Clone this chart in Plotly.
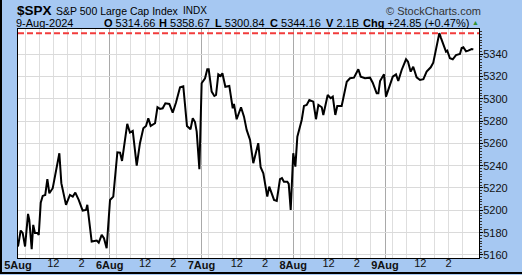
import plotly.graph_objects as go

# ---------------- data ----------------
days = ["5Aug", "6Aug", "7Aug", "8Aug", "9Aug"]
session_hours = 6.5                     # 9:30 - 16:00
intraday_labels = ["12", "2"]
intraday_label_hours = [2.5, 4.5]       # hours after open
grid_hours = [0.5, 1.5, 2.5, 3.5, 4.5, 5.5]

# session-compressed time (hours since 5-Aug open) and price
t_hours = [0.00, 0.19, 0.33, 0.50, 0.71, 0.80, 0.97, 1.08, 1.20, 1.37, 1.47, 1.61, 1.75, 1.93, 2.08,
           2.22, 2.46, 2.64, 2.93, 3.07, 3.40, 3.68, 3.88, 4.06, 4.30, 4.58, 4.82, 4.91, 5.22, 5.58,
           5.72, 5.93, 6.09, 6.28,
           6.52, 6.75, 7.04, 7.23, 7.37, 7.74, 7.93, 8.13, 8.41, 8.64, 8.88, 9.07, 9.23, 9.40, 9.71,
           9.88, 10.06, 10.25, 10.44, 10.72, 10.96, 11.19, 11.48, 11.71, 11.97, 12.22, 12.38, 12.54,
           12.66, 12.85,
           13.01, 13.25, 13.41, 13.51, 13.72, 13.91, 14.03, 14.19, 14.36, 14.48, 14.69, 14.97, 15.21,
           15.30, 15.49, 15.80, 16.01, 16.20, 16.44, 16.67, 17.02, 17.19, 17.38, 17.66, 17.80, 18.14,
           18.33, 18.56, 18.70, 18.84, 19.08, 19.18, 19.32,
           19.50, 19.65, 19.79, 20.10, 20.26, 20.45, 20.64, 20.92, 21.11, 21.28, 21.52, 21.63, 21.94,
           22.15, 22.30, 22.48, 22.62, 22.93, 23.29, 23.52, 23.80, 24.11, 24.28, 24.58, 24.94, 25.13,
           25.41, 25.53, 25.65, 25.93,
           26.07, 26.30, 26.55, 26.78, 26.94, 27.18, 27.49, 27.63, 27.82, 28.00, 28.24, 28.48, 28.72,
           28.95, 29.24, 29.42, 29.66, 29.85, 29.95, 30.13, 30.32, 30.41, 30.60, 30.80, 31.03, 31.31,
           31.43, 31.55, 31.74, 31.90, 32.14, 32.26]

price = [5167.6, 5181.9, 5179.8, 5167.6, 5196.8, 5191.4, 5165.2, 5187.0, 5179.8, 5179.8, 5178.0, 5206.9,
         5212.9, 5213.8, 5227.9, 5215.3, 5219.8, 5231.7, 5251.1, 5224.3, 5204.9, 5213.8, 5212.3, 5215.9,
         5209.3, 5199.8, 5200.4, 5204.9, 5172.0, 5172.9, 5171.1, 5178.0, 5175.1, 5166.1,
         5209.3, 5212.3, 5252.0, 5251.7, 5244.2, 5277.4, 5269.6, 5271.1, 5240.0, 5260.1, 5273.5, 5275.6,
         5282.5, 5275.6, 5278.0, 5292.3, 5290.8, 5291.4, 5295.9, 5295.3, 5287.5, 5296.4, 5310.2, 5311.1,
         5275.6, 5272.6, 5282.5, 5279.1, 5270.5, 5236.8,
         5313.8, 5318.3, 5326.3, 5326.3, 5306.3, 5302.4, 5303.3, 5321.8, 5320.3, 5322.7, 5310.7, 5311.4,
         5291.4, 5295.3, 5281.6, 5292.3, 5283.9, 5272.0, 5263.0, 5242.2, 5260.1, 5238.6, 5233.2, 5212.3,
         5221.2, 5209.3, 5208.4, 5227.9, 5228.8, 5225.7, 5225.7, 5223.7, 5200.4,
         5251.1, 5239.1, 5266.0, 5280.9, 5293.5, 5294.4, 5298.8, 5297.3, 5281.6, 5294.4, 5292.3, 5285.4,
         5303.3, 5300.4, 5301.8, 5285.4, 5293.5, 5293.5, 5315.2, 5318.3, 5318.8, 5326.3, 5319.7, 5318.3,
         5318.8, 5314.3, 5304.8, 5304.8, 5315.8, 5321.8,
         5301.8, 5311.4, 5319.7, 5321.8, 5315.8, 5325.7, 5335.3, 5333.1, 5324.2, 5328.6, 5319.1, 5316.7,
         5317.4, 5324.2, 5328.1, 5332.2, 5346.5, 5358.67, 5354.9, 5348.1, 5342.1, 5343.0, 5336.2, 5335.3,
         5339.1, 5340.0, 5345.4, 5346.0, 5342.4, 5343.0, 5344.5, 5344.16]

high_line = 5358.67
y_tick_values = [5160, 5180, 5200, 5220, 5240, 5260, 5280, 5300, 5320, 5340]

header_symbol = "$SPX"
header_name = "S&P 500 Large Cap Index"
header_exchange = "INDX"
header_date = "9-Aug-2024"
ohlc = [("O", "5314.66"), ("H", "5358.67"), ("L", "5300.84"), ("C", "5344.16"), ("V", "2.1B"),
        ("Chg", "+24.85 (+0.47%)")]

# ---------------- layout ----------------
W, H = 522, 275
ML, MR, MT, MB = 18, 43, 29, 17
PW, PH = W - ML - MR, H - MT - MB
FONT = "Arial"
BG = "#a6c8f2"

def px(x):
    return (x - ML) / PW

def py(y):
    return (H - MB - y) / PH

day_starts = [i * session_hours for i in range(len(days))]
intra_vals, intra_text = [], []
for d in day_starts:
    for h, lab in zip(intraday_label_hours, intraday_labels):
        intra_vals.append(d + h)
        intra_text.append(lab)
hour_grid = [d + h for d in day_starts for h in grid_hours]

x_range = [0, (479 - ML) / ((385 - ML) / (4 * session_hours))]

fig = go.Figure()
fig.add_trace(go.Scatter(x=t_hours, y=price, mode="lines",
                         line=dict(color="black", width=2), hoverinfo="skip", showlegend=False))
fig.add_trace(go.Scatter(x=[t_hours[0]], y=[price[0]], xaxis="x2", mode="markers",
                         marker=dict(opacity=0), hoverinfo="skip", showlegend=False))

fig.add_shape(type="line", xref="paper", x0=0, x1=1, yref="y", y0=high_line, y1=high_line,
              line=dict(color="#f23c3c", width=2, dash="6px,3px"))

# outer frame (left and bottom)
fig.add_shape(type="line", xref="paper", yref="paper", x0=px(1), x1=px(1), y0=py(0), y1=py(274),
              line=dict(color="black", width=2))
fig.add_shape(type="line", xref="paper", yref="paper", x0=px(0), x1=px(522), y0=py(273), y1=py(273),
              line=dict(color="black", width=2))

ann = []
def text(xc, y, s, size, bold=False, color="black"):
    ann.append(dict(x=px(xc), y=py(y), xref="paper", yref="paper", xanchor="center", yanchor="middle",
                    text=f"<b>{s}</b>" if bold else s, showarrow=False, borderpad=0,
                    font=dict(family=FONT, size=size, color=color)))

text(34.5, 10.5, header_symbol, 13.5, bold=True)
text(117, 10.5, header_name, 10.5)
text(195, 10.5, header_exchange, 10)
text(45, 23.3, header_date, 11)
ohlc_centers = [129, 184, 240, 295, 342, 416]
for (k, v), xc in zip(ohlc, ohlc_centers):
    text(xc, 23.3, f"<b>{k}</b> {v}", 11)
text(475, 22.5, "▲", 7, color="#2f8f2f")
text(433, 10.5, "© StockCharts.com", 11, color="#333333")

fig.update_layout(
    width=W, height=H, autosize=False,
    margin=dict(l=ML, r=MR, t=MT, b=MB, pad=0, autoexpand=False),
    paper_bgcolor=BG, plot_bgcolor="white",
    font=dict(family=FONT, size=11, color="black"),
    annotations=ann,
    xaxis=dict(range=x_range, tickmode="array", tickvals=day_starts, automargin=False,
               ticktext=[f"<b>{d}</b>" for d in days],
               showgrid=True, gridcolor="#a9a9a9", gridwidth=1,
               minor=dict(tickmode="array", tickvals=hour_grid, showgrid=True,
                          gridcolor="#dedede", gridwidth=1),
               showline=True, linecolor="black", linewidth=1, mirror=True,
               zeroline=False, ticks="", ticklabelstandoff=-3,
               tickfont=dict(family=FONT, size=11, color="#111111")),
    xaxis2=dict(range=x_range, overlaying="x", anchor="y", side="bottom", automargin=False,
                tickmode="array", tickvals=intra_vals, ticktext=intra_text,
                showgrid=False, showline=False, zeroline=False, ticks="", ticklabelstandoff=-3,
                tickfont=dict(family=FONT, size=11, color="#111111")),
    yaxis=dict(range=[5157.3, 5362.4], side="right", tickmode="array", tickvals=y_tick_values,
               automargin=False,
               showgrid=True, gridcolor="#dadada", gridwidth=1,
               ticks="outside", ticklen=3, tickcolor="black", tickwidth=1, ticklabelstandoff=-2,
               minor=dict(dtick=2.5, tick0=5160, ticks="outside", ticklen=2, tickcolor="#333333"),
               showline=True, linecolor="black", linewidth=1, mirror=True, zeroline=False,
               tickfont=dict(family=FONT, size=11, color="#111111")),
)

fig.write_html("out.html", config=dict(displayModeBar=False))
